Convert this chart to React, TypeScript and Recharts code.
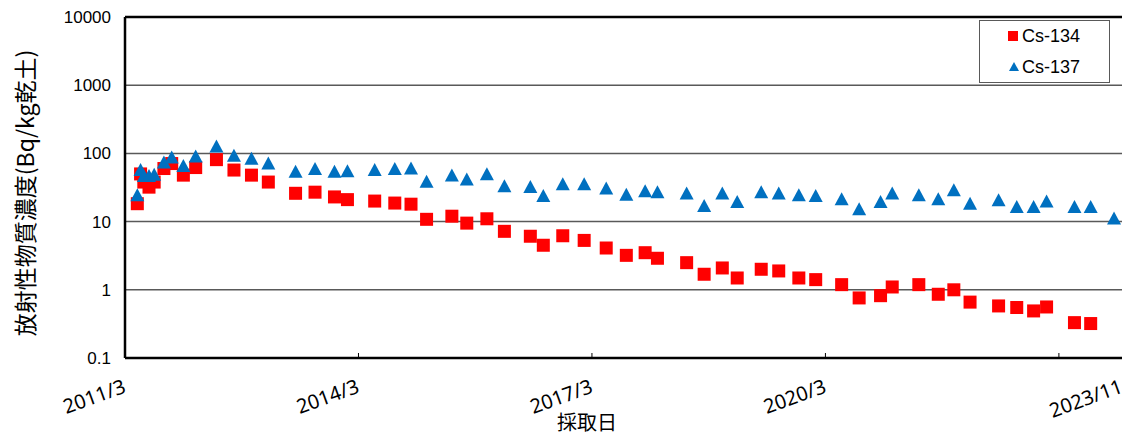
import React from "react";
import {
  ScatterChart,
  Scatter,
  XAxis,
  YAxis,
  CartesianGrid,
  ReferenceLine,
  Legend,
  Label,
} from "recharts";

// sampling month, counted from 2011/3
const months = [
  1.9, 2.4, 2.9, 3.7, 4.5, 6.0, 7.2, 9.0, 10.9, 14.1, 16.8, 19.5, 22.1, 26.3,
  29.3, 32.3, 34.3, 38.5, 41.6, 44.1, 46.5, 50.4, 52.7, 55.8, 58.5, 62.5, 64.5,
  67.5, 70.8, 74.2, 77.3, 80.2, 82.1, 86.6, 89.3, 92.1, 94.4, 98.1, 100.8,
  103.9, 106.5, 110.5, 113.2, 116.5, 118.3, 122.4, 125.4, 127.8, 130.3, 134.7,
  137.5, 140.1, 142.1, 146.4, 148.9, 152.5,
];

// Bq/kg (dry soil)
const cs134 = [
  18.3, 50, 38, 32, 38, 60, 71, 48, 62, 81, 57, 48, 38, 26, 27, 23, 21, 20,
  18.7, 18, 10.8, 12, 9.5, 11, 7.2, 6.1, 4.5, 6.2, 5.3, 4.1, 3.2, 3.5, 2.9,
  2.5, 1.69, 2.09, 1.49, 2.0, 1.89, 1.49, 1.41, 1.19, 0.76, 0.82, 1.1, 1.19,
  0.86, 1.0, 0.66, 0.58, 0.55, 0.49, 0.56, 0.33, 0.32, null,
];

const cs137 = [
  23.5, 55, 45, 45, 47, 71, 84, 63, 87, 122, 89, 81, 69, 52, 57, 52, 53, 55,
  57, 58, 37, 46, 40, 48, 32, 31, 23, 34, 34, 29.5, 24, 27, 26, 25, 16.4, 25,
  18.7, 26, 25, 23.5, 23, 20.5, 14.7, 18.7, 25, 23.5, 20.5, 27.8, 17.7, 19.9,
  15.8, 15.8, 19, 15.8, 15.8, 10.7,
];

const X_MAX = 154.5;
const xTicks = [0, 36, 72, 108, 144, X_MAX];
const xTickLabels = ["2011/3", "2014/3", "2017/3", "2020/3", "", "2023/11"];
const yTicks = [0.1, 1, 10, 100, 1000, 10000];

const RED = "#FF0000";
const BLUE = "#0070C0";

const data134 = months
  .map((m, i) => ({ m, v: cs134[i] }))
  .filter((d) => d.v != null);
const data137 = months
  .map((m, i) => ({ m, v: cs137[i] }))
  .filter((d) => d.v != null);

const Square = (p: any) => (
  <rect x={p.cx - 6.5} y={p.cy - 6.5} width={13} height={13} fill={RED} />
);

const Triangle = (p: any) => (
  <polygon
    points={`${p.cx},${p.cy - 8} ${p.cx + 7},${p.cy + 5} ${p.cx - 7},${p.cy + 5}`}
    fill={BLUE}
  />
);

const XTick = (p: any) => {
  const i = xTicks.indexOf(p.payload.value);
  const inner = i > 0 && i < xTicks.length - 1;
  const last = i === xTicks.length - 1;
  const ax = last ? p.x - 3 : p.x + 2;
  const ay = p.y + 34;
  return (
    <g>
      {inner && (
        <line x1={p.x} y1={p.y} x2={p.x} y2={p.y - 5} stroke="#000" strokeWidth={1} />
      )}
      <text
        x={ax}
        y={ay}
        textAnchor="end"
        transform={`rotate(-20, ${ax}, ${ay})`}
        fontFamily="'Noto Sans', sans-serif"
        fontSize={20}
        fill="#000"
      >
        {xTickLabels[i]}
      </text>
    </g>
  );
};

const LegendBox = () => (
  <div
    style={{
      position: "relative",
      width: 131,
      height: 63,
      boxSizing: "border-box",
      border: "1px solid #595959",
      background: "#fff",
      fontFamily: "'Liberation Sans', Arial, sans-serif",
      fontSize: 18,
      color: "#000",
    }}
  >
    <svg width={131} height={63} style={{ position: "absolute", left: -1, top: -1 }}>
      <rect x={29} y={11} width={10} height={10} fill={RED} />
      <polygon points="35,42 40,51 30,51" fill={BLUE} />
    </svg>
    <div style={{ position: "absolute", left: 42, top: 5, lineHeight: "20px" }}>Cs-134</div>
    <div style={{ position: "absolute", left: 42, top: 36, lineHeight: "20px" }}>Cs-137</div>
  </div>
);

export default function App() {
  return (
    <ScatterChart
      width={1122}
      height={433}
      margin={{ top: 9, right: 3, left: 0, bottom: 0 }}
    >
      <CartesianGrid horizontal vertical={false} stroke="#595959" strokeWidth={1.5} />
      <XAxis
        type="number"
        dataKey="m"
        domain={[0, X_MAX]}
        ticks={xTicks}
        interval={0}
        height={83}
        tickSize={0}
        tickMargin={0}
        tickLine={false}
        axisLine={{ stroke: "#000", strokeWidth: 2.5 }}
        tick={<XTick />}
        allowDataOverflow
      >
        <Label
          content={() => (
            <text
              x={579}
              y={422}
              textAnchor="middle"
              fontFamily="'Noto Sans CJK JP', sans-serif"
              fontSize={20}
              fill="#000"
            >
              採取日
            </text>
          )}
        />
      </XAxis>
      <YAxis
        type="number"
        dataKey="v"
        scale="log"
        domain={[0.1, 10000]}
        ticks={yTicks}
        interval={0}
        width={117}
        tickSize={0}
        tickMargin={14}
        tickLine={false}
        axisLine={{ stroke: "#000", strokeWidth: 2.5 }}
        tick={{ fill: "#000", fontSize: 17, fontFamily: "'Liberation Sans', Arial, sans-serif" }}
        tickFormatter={(v: number) => String(v)}
        allowDataOverflow
      >
        <Label
          content={() => (
            <text
              x={16}
              y={185}
              textAnchor="middle"
              dominantBaseline="central"
              transform="rotate(-90, 16, 185)"
              fontFamily="'Noto Sans CJK JP', sans-serif"
              fontSize={23}
              fill="#000"
            >
              放射性物質濃度(Bq/kg乾土)
            </text>
          )}
        />
      </YAxis>
      <ReferenceLine y={10000} stroke="#000" strokeWidth={2.5} />
      <ReferenceLine x={X_MAX} stroke="#000" strokeWidth={2.5} />
      <Legend
        layout="horizontal"
        align="center"
        verticalAlign="middle"
        wrapperStyle={{ left: 971, top: 12, width: 131, height: 63 }}
        content={() => <LegendBox />}
      />
      <Scatter
        name="Cs-134"
        data={data134}
        fill={RED}
        shape={Square}
        isAnimationActive={false}
      />
      <Scatter
        name="Cs-137"
        data={data137}
        fill={BLUE}
        shape={Triangle}
        isAnimationActive={false}
      />
    </ScatterChart>
  );
}
